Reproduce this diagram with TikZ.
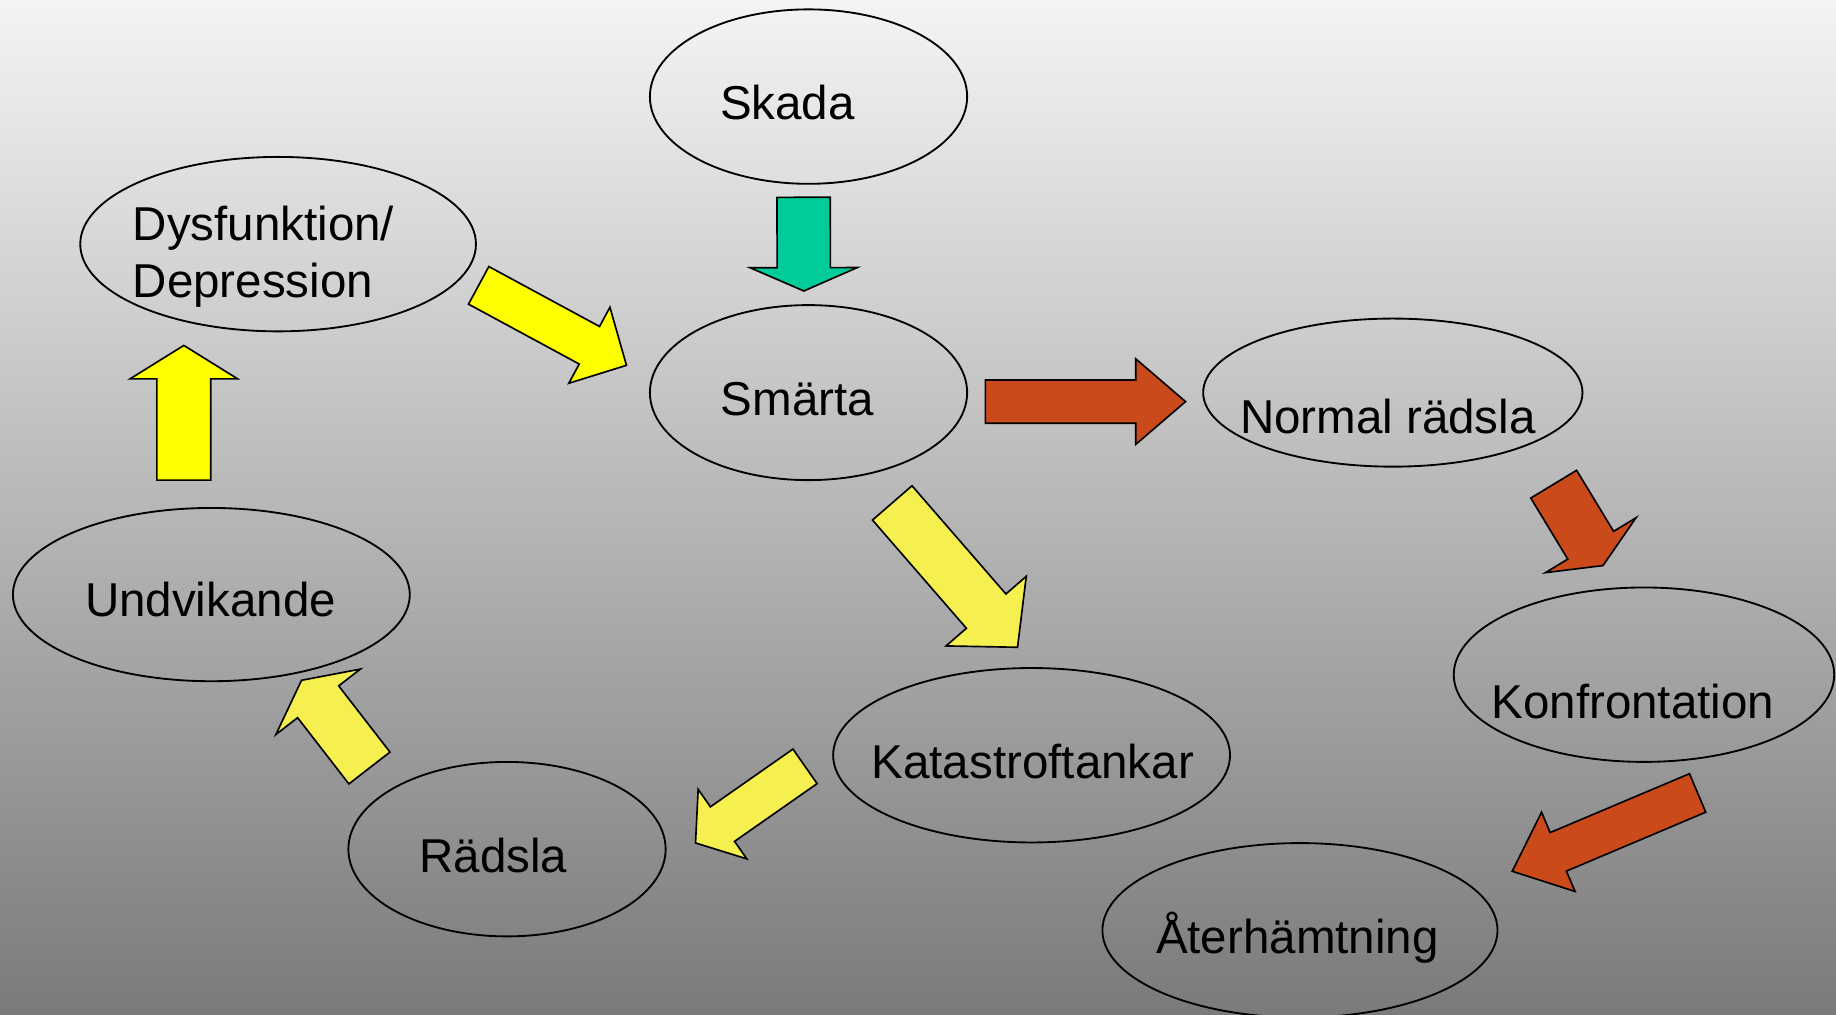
\documentclass[tikz,border=0pt]{standalone}
\usepackage{fontspec}
\setmainfont{Liberation Sans}
\usetikzlibrary{shapes.geometric,calc}
\definecolor{bgtop}{RGB}{244,244,244}
\definecolor{bgbot}{RGB}{122,122,122}
\definecolor{yelA}{RGB}{255,255,0}
\definecolor{yelB}{RGB}{245,240,80}
\definecolor{grnA}{RGB}{0,204,153}
\definecolor{redA}{RGB}{203,74,27}
\tikzset{
  ell/.style={ellipse, draw=black, line width=0.9pt, inner sep=0pt, fill=none},
  lbl/.style={inner sep=0pt, anchor=base, font=\fontsize{23.1}{27.7}\selectfont},
  arrowline/.style={draw=black, line width=0.8pt, line join=miter}
}
% #1 tail, #2 tip, #3 half shaft, #4 half head, #5 head length (px), #6 fill
\newcommand\blockarrow[6]{%
  \pgfmathsetmacro\bahs{#3*0.56905}%
  \pgfmathsetmacro\bahh{#4*0.56905}%
  \pgfmathsetmacro\bahl{#5*0.56905}%
  \coordinate (bah) at ($(#2)!\bahl pt!(#1)$);
  \draw[arrowline, fill=#6]
    ($(#1)!\bahs pt!90:(#2)$) -- ($(bah)!\bahs pt!-90:(#1)$) --
    ($(bah)!\bahh pt!-90:(#1)$) -- (#2) --
    ($(bah)!\bahh pt!90:(#1)$) -- ($(bah)!\bahs pt!90:(#1)$) --
    ($(#1)!\bahs pt!-90:(#2)$) -- cycle;}
\begin{document}
\begin{tikzpicture}[x=0.02cm, y=-0.02cm]
\clip (0,0) rectangle (1568,866.8);
\shade[top color=bgtop, bottom color=bgbot] (0,0) rectangle (1568,866.8);

% ellipses
\node[ell, minimum width=5.42cm, minimum height=2.98cm] (skada) at (690.5,82.5) {};
\node[ell, minimum width=5.42cm, minimum height=2.99cm] (smarta) at (690.5,335.3) {};
\node[ell, minimum width=6.76cm, minimum height=2.98cm] (dys) at (237.5,208.5) {};
\node[ell, minimum width=6.48cm, minimum height=2.53cm] (normal) at (1189.5,335.3) {};
\node[ell, minimum width=6.78cm, minimum height=2.96cm] (undv) at (180.5,507.8) {};
\node[ell, minimum width=6.78cm, minimum height=2.98cm] (kat) at (881,645) {};
\node[ell, minimum width=6.50cm, minimum height=2.98cm] (konf) at (1404,576.2) {};
\node[ell, minimum width=5.42cm, minimum height=2.98cm] (radsla) at (433,725.2) {};
\node[ell, minimum width=6.75cm, minimum height=2.98cm] (ater) at (1110.2,794.5) {};

% texts
\node[lbl] (tskada) at (672.5,102) {Skada};
\node[lbl] (tsmarta) at (681,354.5) {Smärta};
\node[lbl, anchor=base west] (tdys1) at (113,205.5) {Dysfunktion/};
\node[lbl, anchor=base west] (tdys2) at (113,254.2) {Depression};
\node[lbl] (tnormal) at (1185.3,370) {Normal rädsla};
\node[lbl] (tundv) at (179.8,526.3) {Undvikande};
\node[lbl] (tkat) at (882,665) {Katastroftankar};
\node[lbl] (tkonf) at (1394.5,613.7) {Konfrontation};
\node[lbl] (tradsla) at (421.3,745) {Rädsla};
\node[lbl] (tater) at (1108,813.9) {Återhämtning};

% arrow end points
\coordinate (a1s) at (686.3,168.5);  \coordinate (a1e) at (686.5,248.5);
\coordinate (a2s) at (157,410);      \coordinate (a2e) at (157,295);
\coordinate (a3s) at (408.8,243.7);  \coordinate (a3e) at (535,312);
\coordinate (a4s) at (841.5,343);    \coordinate (a4e) at (1012.5,343);
\coordinate (a5s) at (762,429.5);    \coordinate (a5e) at (869,552.8);
\coordinate (a6s) at (1326.9,413.5); \coordinate (a6e) at (1369,483);
\coordinate (a7s) at (1449.8,677.2); \coordinate (a7e) at (1291.5,744.1);
\coordinate (a8s) at (687.5,654.5);  \coordinate (a8e) at (594,719.9);
\coordinate (a9s) at (315.5,655.9);  \coordinate (a9e) at (257.5,581);

\blockarrow{a1s}{a1e}{22.75}{45.75}{19.9}{grnA}
\blockarrow{a2s}{a2e}{23}{46}{28.6}{yelA}
\blockarrow{a3s}{a3e}{18.25}{36.9}{36}{yelA}
\blockarrow{a4s}{a4e}{18.5}{36.5}{42.5}{redA}
\blockarrow{a5s}{a5e}{22.35}{45.35}{40.9}{yelB}
\blockarrow{a6s}{a6e}{22.9}{45.25}{20.3}{redA}
\blockarrow{a7s}{a7e}{17.85}{36.75}{42.7}{redA}
\blockarrow{a8s}{a8e}{18}{36.25}{28.1}{yelB}
\blockarrow{a9s}{a9e}{22.2}{45.6}{23.2}{yelB}
\end{tikzpicture}
\end{document}
